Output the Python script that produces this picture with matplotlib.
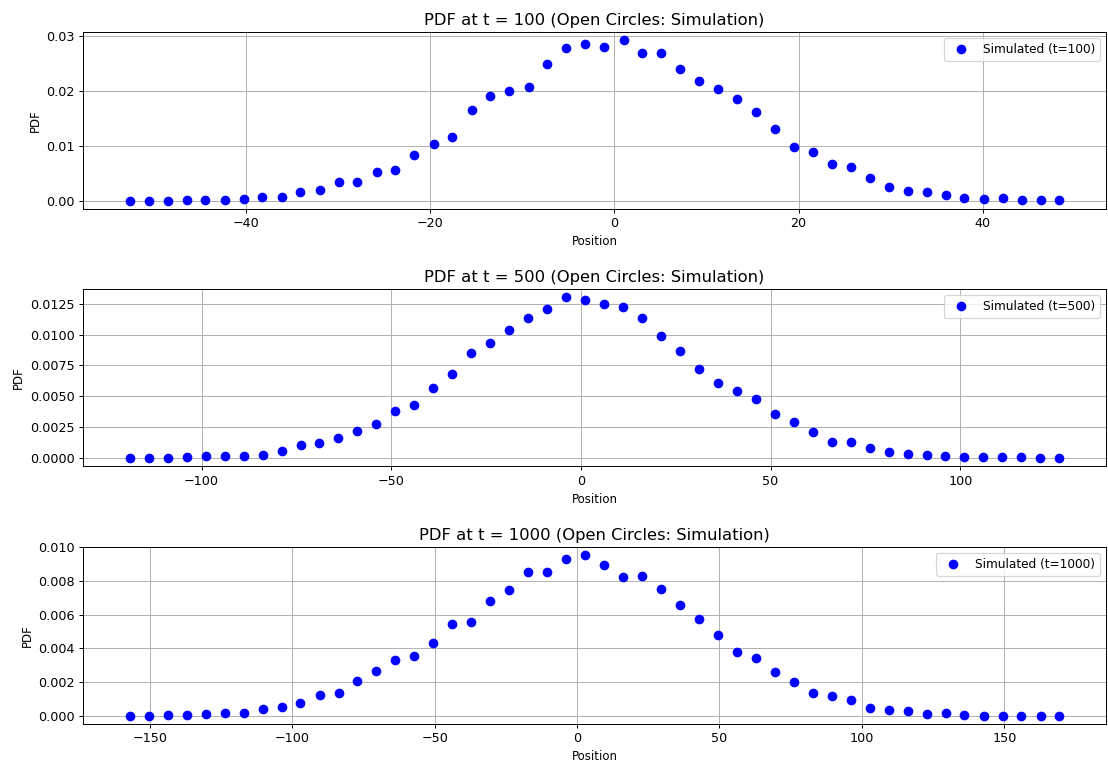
import numpy as np
import matplotlib
matplotlib.use("Agg")
import matplotlib.pyplot as plt

# time steps shown
times = [100, 500, 1000]

# bin centres (positions)
pos_100 = [-52.6, -50.5, -48.5, -46.4, -44.4, -42.3, -40.2, -38.2, -36.1, -34.1,
           -32.0, -29.9, -27.9, -25.8, -23.8, -21.7, -19.6, -17.6, -15.5, -13.5,
           -11.4, -9.3, -7.3, -5.2, -3.2, -1.1, 1.0, 3.0, 5.1, 7.1,
           9.2, 11.3, 13.3, 15.4, 17.4, 19.5, 21.6, 23.6, 25.7, 27.7,
           29.8, 31.9, 33.9, 36.0, 38.0, 40.1, 42.2, 44.2, 46.3, 48.3]
pdf_100 = [0.0, 0.0, 0.0, 0.0002, 0.0002, 0.0002, 0.0003, 0.0007, 0.0007, 0.0016,
           0.0020, 0.0034, 0.0034, 0.0053, 0.0055, 0.0083, 0.0104, 0.0116, 0.0165, 0.0190,
           0.0200, 0.0206, 0.0249, 0.0277, 0.0284, 0.0279, 0.0292, 0.0269, 0.0269, 0.0239,
           0.0218, 0.0203, 0.0185, 0.0162, 0.0131, 0.0098, 0.0089, 0.0066, 0.0062, 0.0042,
           0.0025, 0.0018, 0.0016, 0.0010, 0.0005, 0.0003, 0.0005, 0.0002, 0.0002, 0.0002]

pos_500 = [-118.9, -113.9, -108.9, -103.9, -98.9, -93.9, -88.9, -83.9, -78.9, -73.9,
           -68.9, -63.9, -58.9, -53.9, -48.9, -43.9, -38.9, -33.9, -28.9, -23.9,
           -18.9, -13.9, -8.9, -3.9, 1.1, 6.1, 11.1, 16.1, 21.1, 26.1,
           31.1, 36.1, 41.1, 46.1, 51.1, 56.1, 61.1, 66.1, 71.1, 76.1,
           81.1, 86.1, 91.1, 96.1, 101.1, 106.1, 111.1, 116.1, 121.1, 126.1]
pdf_500 = [0.0, 0.0, 0.0, 0.0001, 0.00016, 0.00016, 0.00016, 0.00027, 0.00056, 0.0011,
           0.0012, 0.0016, 0.0022, 0.0028, 0.0038, 0.0043, 0.0057, 0.0068, 0.0085, 0.0093,
           0.0104, 0.0113, 0.0121, 0.0130, 0.0128, 0.0125, 0.0122, 0.0113, 0.0099, 0.0087,
           0.0072, 0.0061, 0.0054, 0.0048, 0.0036, 0.0029, 0.0021, 0.0013, 0.0013, 0.0008,
           0.0005, 0.00035, 0.00027, 0.00016, 0.00013, 0.0001, 0.0001, 0.0001, 0.0, 0.0]

pos_1000 = [-157.0, -150.3, -143.7, -137.0, -130.4, -123.7, -117.0, -110.4, -103.7, -97.1,
            -90.4, -83.7, -77.1, -70.4, -63.8, -57.1, -50.4, -43.8, -37.1, -30.5,
            -23.8, -17.1, -10.5, -3.8, 2.8, 9.5, 16.2, 22.8, 29.5, 36.1,
            42.8, 49.5, 56.1, 62.8, 69.4, 76.1, 82.8, 89.4, 96.1, 102.7,
            109.4, 116.1, 122.7, 129.4, 136.0, 142.7, 149.4, 156.0, 162.7, 169.3]
pdf_1000 = [0.0, 0.0, 0.00006, 0.00006, 0.00012, 0.00018, 0.00018, 0.00042, 0.00052, 0.00074,
            0.00122, 0.00132, 0.00204, 0.00263, 0.00333, 0.00355, 0.00429, 0.00543, 0.00557, 0.00683,
            0.00745, 0.00852, 0.00856, 0.00934, 0.00956, 0.00894, 0.00824, 0.00828, 0.00752, 0.00655,
            0.00573, 0.00481, 0.00381, 0.00341, 0.00257, 0.00202, 0.00132, 0.00118, 0.00094, 0.00046,
            0.00032, 0.00026, 0.00012, 0.00018, 0.00006, 0.0, 0.0, 0.0, 0.0, 0.0]

# y tick values as shown on each panel
yticks_100 = [0.0, 0.01, 0.02, 0.03]
yticks_500 = [0.0, 0.0025, 0.005, 0.0075, 0.01, 0.0125]
yticks_1000 = [0.0, 0.002, 0.004, 0.006, 0.008, 0.010]

positions = [pos_100, pos_500, pos_1000]
pdfs = [pdf_100, pdf_500, pdf_1000]
yticks = [yticks_100, yticks_500, yticks_1000]

fig, axes = plt.subplots(3, 1, figsize=(1108 / 87, 767 / 87), dpi=87)
fig.subplots_adjust(left=0.0752, right=0.998, top=0.9583, bottom=0.0565, hspace=0.456)

for ax, t, x, y, yt in zip(axes, times, positions, pdfs, yticks):
    ax.plot(np.array(x), np.array(y), 'bo', markersize=7, label=f'Simulated (t={t})')
    ax.set_title(f'PDF at t = {t} (Open Circles: Simulation)', fontsize=13.5)
    ax.set_xlabel('Position', fontsize=9.7)
    ax.set_ylabel('PDF', fontsize=9.7)
    ax.set_yticks(yt)
    ax.tick_params(labelsize=10.5)
    ax.grid(True)
    ax.legend(loc='upper right', fontsize=10)

fig.savefig('out.png', dpi=87)
